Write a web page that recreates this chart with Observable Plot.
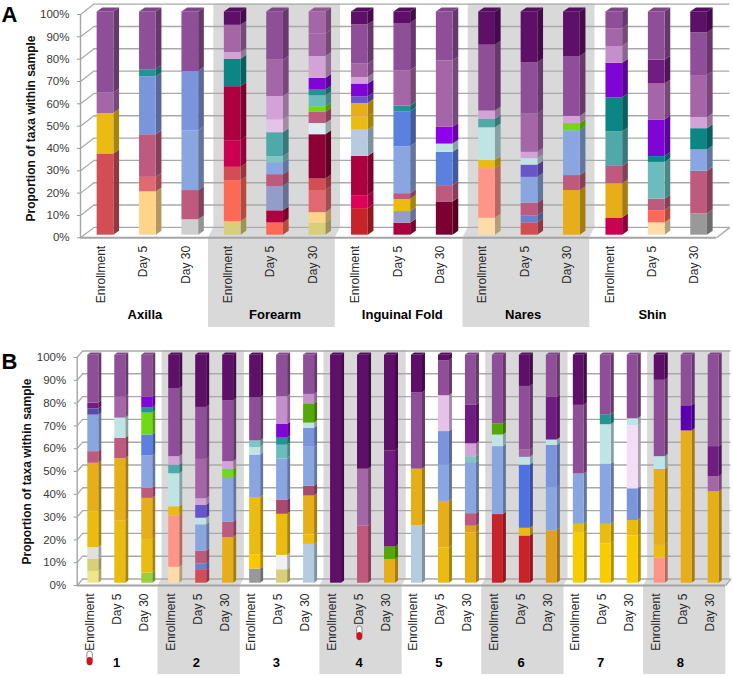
<!DOCTYPE html>
<html>
<head>
<meta charset="utf-8">
<style>html,body{margin:0;padding:0;background:#fff}svg{display:block}</style>
<script src="https://cdn.jsdelivr.net/npm/d3@7"></script>
<script src="https://cdn.jsdelivr.net/npm/@observablehq/plot@0.6"></script>
</head>
<body>
<div id="chart"></div>
<script>
// ---------- shared categories ----------
const timepoints = ["Enrollment", "Day 5", "Day 30"];
const percentTicks = [0, 10, 20, 30, 40, 50, 60, 70, 80, 90, 100];

// ---------- taxon colour key ----------
const taxonNames = ["purple","mauve","lilac","lilacmid","palelilac","whitelilac","darkpurple","plum","violet","brightviolet","deepviolet","indigo","navy","blue","sky","royal","cobalt","steel","periwinkle","paleblue","frost","palecyan","seafoam","aqua","tealmid","teal","deepteal","green","darkgreen","yellowgreen","gold","amber","orange","yellow","sun","paleyellow","khaki","peach","cream","salmon","coral","rosered","red","scarlet","rose","rosedark","crimson","hotpink","ruby","wine","darkwine","gray","silver","snow","palegray"];
const taxonColors = ["#8f4f98","#a566a8","#d3a3d8","#c58fcc","#e6c2eb","#f3dff5","#5e1068","#701c80","#7f05d6","#9000ee","#5a00b0","#6a55c8","#5a4ab0","#7b95dc","#8aa6e0","#5b80de","#5070e0","#6a80cc","#929dc9","#b4cbe0","#e0eaf2","#bfe4e4","#80c6c0","#6cbcbd","#4fa9a9","#239393","#0c8585","#70d814","#55a808","#99d03a","#eabb10","#e6ae18","#e0a020","#f8cc00","#fbc800","#efe68a","#d8cf7b","#fdd48a","#fddcaa","#ff9488","#fc6956","#e06a70","#d34d55","#c8232b","#bd5a7d","#a84a70","#cc0050","#e0005a","#ac003f","#8c0035","#7c0030","#999999","#cfcfcf","#f0f0f0","#e0e0e0"];

// ---------- panel A: body site ----------
const siteNames = ["Axilla", "Forearm", "Inguinal Fold", "Nares", "Shin"];
const siteTaxa = [
  "red gold mauve purple",
  "peach rosered rose blue teal purple",
  "silver rose sky blue purple",
  "khaki coral red crimson ruby deepteal lilac mauve darkpurple",
  "coral ruby periwinkle rose sky seafoam tealmid palelilac lilac mauve purple",
  "khaki peach rosered red wine frost rose green aqua teal violet lilac mauve mauve",
  "scarlet hotpink ruby paleblue gold amber indigo violet lilac mauve purple darkpurple",
  "ruby periwinkle gold rose sky royal teal mauve purple darkpurple",
  "darkwine rose royal palecyan brightviolet mauve purple",
  "cream salmon gold palecyan tealmid lilac purple darkpurple",
  "red steel rose sky indigo palecyan lilac mauve purple darkpurple",
  "amber rose sky green lilac purple darkpurple",
  "crimson amber rose tealmid deepteal violet lilacmid mauve purple",
  "cream coral rose aqua deepteal violet mauve plum purple",
  "gray rose sky deepteal lilac mauve purple darkpurple"
];
const siteTops = [
  [36.4,54.5,63.6,100],
  [19.4,25.9,45,70.9,74.1,100],
  [6.9,20,46.8,73.3,100],
  [6.1,24.4,30.4,42.3,66.5,78.8,81.8,94,100],
  [5.5,10.9,21.8,27.1,32.5,35.2,45.9,51.6,62.1,78.4,100],
  [5.4,10.1,20,25.2,45,50,55,57.5,62.4,65,70.2,80,90,100],
  [11.9,17.7,35.3,47,53,59,62,67.7,70.6,76.6,94.2,100],
  [5.4,10.6,16,18.6,39.6,55.3,57.8,73.6,94.8,100],
  [14.9,22.2,37.1,40.8,48.3,78,100],
  [7.6,29.8,33.4,48.1,52,55.6,85.1,100],
  [5.5,8.6,14.3,25.9,31.4,34.3,37.1,54.2,77.2,100],
  [20,26.7,46.8,50,53.2,80,100],
  [7.7,23,30.8,46.3,61.5,77,84.5,92.5,100],
  [5.5,11,16.2,32.6,35.2,51.6,67.7,78.4,100],
  [9.5,28.6,38.2,47.7,52.6,71.5,90.6,100]
];

// ---------- panel B: subject ----------
const subjectNames = ["1", "2", "3", "4", "5", "6", "7", "8"];
const subjectTaxa = [
  "paleyellow khaki palegray gold amber rose sky navy plum purple",
  "gold amber rose palecyan mauve purple",
  "yellowgreen gold amber rose sky royal green teal violet purple",
  "cream salmon gold palecyan tealmid lilac purple darkpurple",
  "red steel rose sky palecyan indigo lilac mauve purple darkpurple",
  "amber rose sky green lilac purple darkpurple",
  "gray sun gold sky palecyan seafoam purple darkpurple",
  "khaki snow gold rosedark sky aqua teal violet lilacmid purple",
  "paleblue gold amber rosedark sky blue palecyan darkgreen lilacmid purple",
  "darkpurple",
  "rose mauve darkpurple",
  "amber darkgreen plum darkpurple",
  "paleblue amber purple darkpurple",
  "gold amber sky blue palelilac purple darkpurple",
  "amber orange rose sky seafoam lilac plum purple",
  "scarlet sky palecyan darkgreen purple",
  "scarlet gold cobalt palecyan mauve purple darkpurple",
  "orange sky blue palecyan plum purple",
  "yellow gold sky purple darkpurple",
  "yellow gold sky palecyan teal purple",
  "yellow gold blue whitelilac palecyan purple",
  "salmon gold amber palecyan purple darkpurple",
  "amber deepviolet purple",
  "amber mauve plum purple"
];
const subjectTops = [
  [5.1,10.4,15.6,31.3,52.6,57.7,73.7,76.4,79,100],
  [27.2,54.6,63.6,72.4,81.6,100],
  [4.4,18.8,37.2,41.6,55.8,65,74.6,76.8,81.5,100],
  [7,29.5,33.5,48,51.8,55.5,85.2,100],
  [5.6,8.5,14.1,25.6,28.5,34.2,37,54.3,77.1,100],
  [20,26.7,46.4,49.9,53.3,80,100],
  [6.2,12.5,37.6,56.2,59.5,62.4,81.2,100],
  [5.9,12.2,30.2,36.3,54.5,60.5,63.6,69.6,81.8,100],
  [17,21.1,38.2,42.6,59.6,68,70.2,78.7,82.8,100],
  [100],
  [25,50,100],
  [10.4,15.9,58,100],
  [25.1,50,83.4,100],
  [15.4,35.8,51.7,66.5,82.2,97.6,100],
  [22,25,30.5,52.9,55.5,61.1,78,100],
  [30.1,59.9,65,69.9,100],
  [20.7,24.1,51.8,55.2,58.4,86.3,100],
  [23,41.9,60.4,62.8,81.5,100],
  [22,25.8,47.9,78,100],
  [17.3,25.8,52.3,69.5,73.9,100],
  [20.7,27.5,41.4,69,72.1,100],
  [11,16.6,49.9,55.5,89,100],
  [66.8,77.8,100],
  [40.1,46.7,59.9,100]
];

// ---------- helpers ----------
const colorOf = name => taxonColors[taxonNames.indexOf(name)];
const shade = (c, k) => d3.color(c).darker(k).formatHex();

// four-point outline of a sheared strip, usable by areaY
const strip = (id, a, b, dx, base, rise, fill) => [
  {id, fill, x: a,      y1: base, y2: base},
  {id, fill, x: a + dx, y1: base, y2: base + rise},
  {id, fill, x: b,      y1: base, y2: base + rise},
  {id, fill, x: b + dx, y1: base + rise, y2: base + rise}
];

function panel(c) {
  const n = c.tops.length;
  const unit = (c.xLast - c.xFirst) / (n - 1);
  const pct = 100 / (c.y0 - c.y100);
  const hw = c.barWidth / 2 / unit;
  const bx = c.barDepthX / unit, by = c.barDepthY * pct;
  const wx = c.wallX / unit;

  const front = [], sides = [], tops = [];
  c.tops.forEach((t, i) => {
    const names = c.taxa[i].split(" ");
    t.forEach((hi, j) => {
      const lo = j ? t[j - 1] : 0;
      const col = colorOf(names[j]);
      front.push({i, lo, hi, fill: col});
      const id = `${i}-${j}`;
      sides.push({id, fill: shade(col, 0.95), x: i + hw, y1: lo, y2: hi});
      sides.push({id, fill: shade(col, 0.95), x: i + hw + bx, y1: lo + by, y2: hi + by});
    });
    tops.push(...strip(`t${i}`, i - hw, i + hw, bx, 100, by, shade(colorOf(names[names.length - 1]), 0.35)));
  });

  const labels = c.tops.map((_, i) => ({i, text: timepoints[i % 3]}));
  const groups = c.groups.map((name, g) => ({name, g, first: g * 3, last: g * 3 + 2, shaded: g % 2 === 1, nudge: c.groupNudge[g]}));
  const shadedGroups = groups.filter(d => d.shaded);
  const wallRise = c.wallY * pct;
  const floorData = shadedGroups.flatMap(d =>
    strip(`f${d.g}`, d.first - c.bandL, d.last + c.bandR, c.bandShift, 0, wallRise, "#d9d9d9"));
  const belowFloor = -(c.bottom - c.y0) * pct;
  const gridLeft = c.axisAt + wx;
  const gridRight = c.floorEnd + wx;
  const ml = c.marginLeft;

  return Plot.plot({
    width: 733, height: c.height,
    marginLeft: ml, marginRight: 0, marginTop: 0, marginBottom: 0,
    style: {fontFamily: "'Liberation Sans', Arial, sans-serif", background: "#fff"},
    x: {type: "linear", domain: [0, n - 1], range: [c.xFirst, c.xLast], axis: null},
    y: {domain: [0, 100], range: [c.y0, c.y100]},
    marks: [
      // shaded group bands: wall, floor and label strip
      Plot.rect(shadedGroups, {x1: d => d.first - c.bandL + c.bandShift, x2: d => d.last + c.bandR + c.bandShift, y1: wallRise, y2: 100 + wallRise, fill: "#d9d9d9"}),
      Plot.areaY(floorData, {x: "x", y1: "y1", y2: "y2", z: "id", fill: "fill"}),
      Plot.rect(shadedGroups, {x1: d => d.first - c.bandL, x2: d => d.last + c.bandR, y1: belowFloor, y2: 0, fill: "#d9d9d9"}),
      // 3-D frame
      Plot.ruleY(percentTicks, {y: d => d + wallRise, x1: gridLeft, x2: gridRight, stroke: "#a9a9a9", strokeWidth: 1.4}),
      Plot.link(percentTicks, {x1: c.axisAt, x2: gridLeft, y1: d => d, y2: d => d + wallRise, stroke: "#a9a9a9", strokeWidth: 1.2}),
      Plot.link([0], {x1: c.floorEnd, x2: gridRight, y1: 0, y2: wallRise, stroke: "#a9a9a9", strokeWidth: 1.4}),
      Plot.ruleY([0], {x1: c.axisAt, x2: c.floorEnd, stroke: "#a4a4a4", strokeWidth: 2}),
      Plot.ruleX([c.axisAt], {y1: 0, y2: 100, stroke: "#a4a4a4", strokeWidth: 1.4}),
      // bars
      Plot.areaY(sides, {x: "x", y1: "y1", y2: "y2", z: "id", fill: "fill", dy: -c.barLift}),
      Plot.areaY(tops, {x: "x", y1: "y1", y2: "y2", z: "id", fill: "fill", dy: -c.barLift}),
      Plot.rect(front, {x1: d => d.i - hw, x2: d => d.i + hw, y1: "lo", y2: "hi", fill: "fill", dy: -c.barLift}),
      // axis
      Plot.axisY({ticks: percentTicks, tickFormat: d => d + "%", label: null, tickSize: 3, tickPadding: c.tickPad, fontSize: 11.5, stroke: "#999", color: "#3a3a3a"}),
      Plot.text(["Proportion of taxa within sample"], {frameAnchor: "top-left", textAnchor: "middle", lineAnchor: "middle", dx: c.titleX - ml, dy: c.titleY, text: d => d, rotate: -90, fontWeight: "bold", fontSize: 12, fill: "#111"}),
      // category labels
      Plot.text(labels, {x: "i", y: 0, text: "text", rotate: -90, textAnchor: "end", dx: c.labelDx, dy: c.labelDrop, fontSize: 12, fill: "#2a2a2a"}),
      Plot.text(groups, {x: d => d.first + 1 + d.nudge, y: 0, text: "name", dy: c.groupDrop, fontWeight: "bold", fontSize: 13, fill: "#000"}),
      // panel letter
      Plot.text([c.letter], {frameAnchor: "top-left", dx: 1 - ml, dy: c.letterY, text: d => d, fontWeight: "bold", fontSize: 22, fill: "#000"}),
      ...(c.marks || []).map(f => f(pct))
    ]
  });
}

// treatment marker: a capsule placed under a timepoint label
function pillMarks(pills, halfW) {
  return [
    pct => Plot.rect(pills, {x1: d => d.i - halfW, x2: d => d.i + halfW, y1: d => d.y - 7 * pct, y2: d => d.y + 7 * pct, fill: "#fff", stroke: "#8a8a8a", strokeWidth: 1, rx: 2.8, ry: 2.8, dx: -3.2}),
    pct => Plot.rect(pills, {x1: d => d.i - halfW, x2: d => d.i + halfW, y1: d => d.y - 7 * pct, y2: d => d.y + 1 * pct, fill: "#d8101a", rx: 2.8, ry: 2.8, dx: -3.2})
  ];
}
const treatmentPills = [{i: 0, y: -32}, {i: 10, y: -21}];

const root = document.getElementById("chart");
root.appendChild(panel({
  letter: "A", letterY: 6, height: 332, marginLeft: 80,
  tops: siteTops, taxa: siteTaxa, groups: siteNames,
  xFirst: 105, xLast: 698.6, y0: 237.3, y100: 14, bottom: 327,
  barWidth: 16.7, barDepthX: 5.7, barDepthY: 3.9, barLift: 2.6,
  wallX: 13.5, wallY: 10.4, axisAt: -0.59, floorEnd: 14.41,
  bandL: 0.57, bandR: 0.42, bandShift: 0.125,
  tickPad: 8, titleX: 30.7, titleY: 128,
  labelDx: -4.5, labelDrop: 8, groupDrop: 77.2,
  groupNudge: [-0.07, 0, 0, -0.15, -0.1]
}));
root.appendChild(panel({
  letter: "B", letterY: 21, height: 344, marginLeft: 76.7,
  tops: subjectTops, taxa: subjectTaxa, groups: subjectNames,
  xFirst: 92.8, xLast: 713.2, y0: 253, y100: 25, bottom: 342,
  barWidth: 11, barDepthX: 3, barDepthY: 2.3, barLift: 2.3,
  wallX: 5.3, wallY: 6.5, axisAt: -0.596, floorEnd: 23.44,
  bandL: 0.6, bandR: 0.45, bandShift: 0.15,
  tickPad: 8, titleX: 27, titleY: 139,
  labelDx: -3.5, labelDrop: 8, groupDrop: 77,
  groupNudge: [-0.14, -0.18, -0.21, -0.15, -0.19, -0.14, -0.19, -0.24],
  marks: pillMarks(treatmentPills, 0.1)
}));
</script>
</body>
</html>
